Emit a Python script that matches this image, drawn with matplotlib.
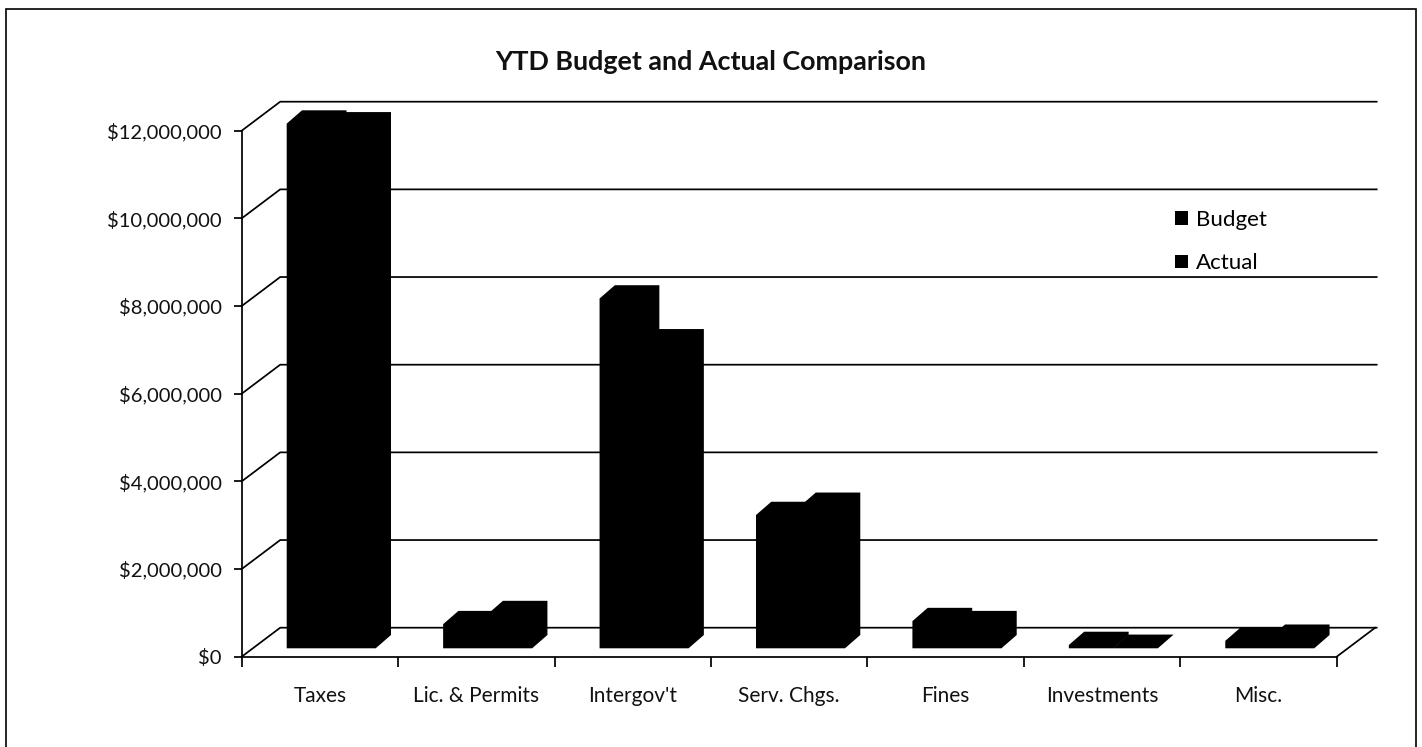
import matplotlib
matplotlib.use("Agg")
import matplotlib.pyplot as plt
from matplotlib.lines import Line2D
from matplotlib.patches import Patch

plt.rcParams['font.family'] = ['Lato', 'DejaVu Sans']

categories = ['Taxes', 'Lic. & Permits', "Intergov't", 'Serv. Chgs.', 'Fines', 'Investments', 'Misc.']
budget = [11.97e6, 0.55e6, 7.98e6, 3.04e6, 0.62e6, 0.075e6, 0.17e6]
actual = [11.93e6, 0.78e6, 6.98e6, 3.25e6, 0.55e6, 0.01e6, 0.24e6]
y_ticks = [0, 2e6, 4e6, 6e6, 8e6, 10e6, 12e6]
y_labels = ['$0', '$2,000,000', '$4,000,000', '$6,000,000', '$8,000,000', '$10,000,000', '$12,000,000']

W, H = 1422, 747
fig = plt.figure(figsize=(W / 100, H / 100), dpi=100)
L, R, T, B = 241.7, 1336.7, 130.7, 656.7
ax = fig.add_axes([L / W, (H - B) / H, (R - L) / W, (B - T) / H])
ax.set_xlim(0, 7)
ax.set_ylim(0, 12e6)

px_x = 7 / (R - L)
px_y = 12e6 / (B - T)
wall_dx, wall_dy = 38.5 * px_x, 29 * px_y
bar_dx, bar_dy = 15.3 * px_x, 13.3 * px_y
base_dy = 8.4 * px_y
bar_left = 45 * px_x
bar_w = 44.5 * px_x
LW = 1.25

# back wall, floor and side diagonals
for v in y_ticks:
    ax.plot([0, wall_dx, 7 + wall_dx + 1.5 * px_x], [v, v + wall_dy, v + wall_dy],
            color='black', lw=LW, clip_on=False, zorder=1, solid_joinstyle='miter')
ax.plot([7, 7 + wall_dx], [0, wall_dy], color='black', lw=LW, clip_on=False, zorder=1)


def draw_bar(x0, value):
    """Silhouette of a 3-D column: front face plus top and side."""
    x1 = x0 + bar_w
    y0 = base_dy
    y1 = base_dy + value
    xs = [x0, x1, x1 + bar_dx, x1 + bar_dx, x0 + bar_dx, x0]
    ys = [y0, y0, y0 + bar_dy, y1 + bar_dy, y1 + bar_dy, y1]
    ax.fill(xs, ys, color='black', lw=0, clip_on=False, zorder=3)


for i, (b, a) in enumerate(zip(budget, actual)):
    draw_bar(i + bar_left, b)
    draw_bar(i + bar_left + bar_w, a)

for side in ('top', 'right'):
    ax.spines[side].set_visible(False)
for side in ('left', 'bottom'):
    ax.spines[side].set_linewidth(LW)

ax.set_yticks(y_ticks)
ax.set_yticklabels(y_labels, fontsize=14.5, color='#111111')
ax.tick_params(axis='y', length=6, width=LW, pad=8.5)
ax.set_xticks(range(8))
ax.set_xticklabels([])
ax.set_xticks([i + 0.5 for i in range(7)], minor=True)
ax.set_xticklabels(categories, minor=True, fontsize=15, color='#111111')
ax.tick_params(axis='x', which='major', length=7, width=LW)
ax.tick_params(axis='x', which='minor', length=0, pad=21)

fig.text(711 / W, 1 - 62 / H, 'YTD Budget and Actual Comparison', ha='center', va='center',
         fontsize=19.4, fontweight='bold', color='#111111')

handles = [Patch(facecolor='black', label='Budget'), Patch(facecolor='black', label='Actual')]
fig.legend(handles=handles, loc='upper left', bbox_to_anchor=(1175 / W, 1 - 210 / H),
           frameon=False, fontsize=16, handlelength=0.58, handleheight=0.58,
           handletextpad=0.36, labelspacing=1.05, borderpad=0, borderaxespad=0)

# outer frame
fig.add_artist(Line2D([6 / W, 6 / W, 1416 / W, 1416 / W],
                      [0, 1 - 9 / H, 1 - 9 / H, 0],
                      color='black', lw=1.2, solid_joinstyle='miter'))

fig.savefig('out.png', dpi=100)
